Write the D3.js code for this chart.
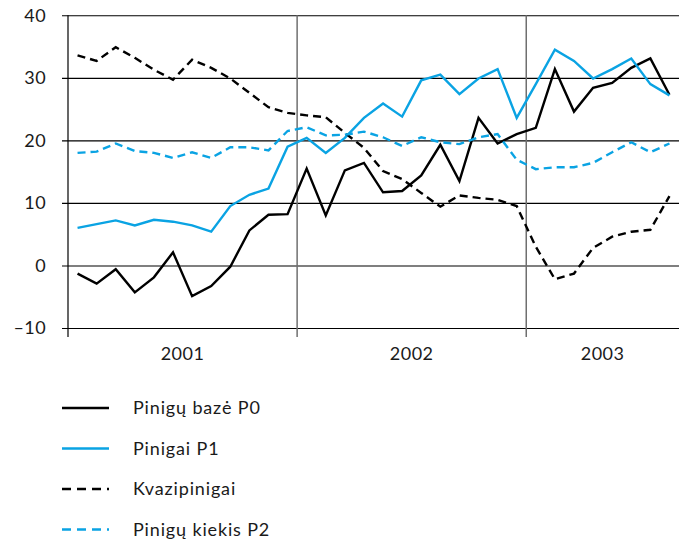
<!DOCTYPE html>
<html>
<head>
<meta charset="utf-8">
<script src="https://cdn.jsdelivr.net/npm/d3@7"></script>
<style>
  body { margin: 0; background: #fff; }
  text { font-family: Lato, "Open Sans", sans-serif; fill: #1a1a1a; }
</style>
</head>
<body>
<div id="chart"></div>
<script>
// monthly data, Jan 2001 - Aug 2003
const years = ["2001", "2002", "2003"];
const monthsPerYear = [12, 12, 8];

const pinigubaze = [-1.3, -2.9, -0.6, -4.3, -1.9, 2.1, -4.9, -3.3, -0.2, 5.6, 8.1, 8.2,
  15.5, 8.0, 15.2, 16.4, 11.7, 11.9, 14.4, 19.3, 13.5, 23.6, 19.5, 21.0,
  22.0, 31.4, 24.6, 28.4, 29.2, 31.6, 33.1, 27.3];
const pinigai = [6.0, 6.6, 7.2, 6.4, 7.3, 7.0, 6.4, 5.4, 9.5, 11.3, 12.3, 19.0,
  20.4, 18.0, 20.4, 23.6, 25.9, 23.8, 29.6, 30.5, 27.4, 29.9, 31.4, 23.6,
  29.0, 34.5, 32.7, 29.9, 31.4, 33.1, 29.0, 27.2];
const kvazipinigai = [33.6, 32.7, 34.9, 33.2, 31.3, 29.7, 32.9, 31.6, 29.9, 27.6, 25.3, 24.4,
  24.0, 23.7, 21.2, 18.8, 15.1, 13.8, 11.6, 9.4, 11.2, 10.8, 10.5, 9.5,
  3.0, -2.2, -1.3, 2.8, 4.6, 5.4, 5.7, 11.1];
const pinigukiekis = [18.0, 18.2, 19.5, 18.3, 18.0, 17.2, 18.1, 17.2, 18.9, 18.9, 18.4, 21.5,
  22.1, 20.8, 20.9, 21.4, 20.5, 19.1, 20.5, 19.7, 19.4, 20.5, 21.0, 16.9,
  15.4, 15.7, 15.7, 16.4, 18.1, 19.7, 18.1, 19.5];

const yTicks = [-10, 0, 10, 20, 30, 40];

const series = [
  {name: "Pinigų bazė P0", values: pinigubaze, color: "#000", dash: null},
  {name: "Pinigai P1", values: pinigai, color: "#0aa3e3", dash: null},
  {name: "Kvazipinigai", values: kvazipinigai, color: "#000", dash: "8,5"},
  {name: "Pinigų kiekis P2", values: pinigukiekis, color: "#0aa3e3", dash: "8,5"}
];

const width = 685, height = 540;
const plotLeft = 68, plotRight = 679, plotTop = 15.3, plotBottom = 328;
const nMonths = d3.sum(monthsPerYear);

const svg = d3.select("#chart").append("svg")
  .attr("width", width)
  .attr("height", height);

const x = d3.scaleLinear().domain([0, nMonths]).range([plotLeft, plotRight]);
const y = d3.scaleLinear().domain([-10, 40]).range([plotBottom, plotTop]);

// horizontal grid + y labels
const yAxis = svg.append("g")
  .attr("transform", "translate(" + (plotLeft - 6) + ",0)")
  .call(d3.axisLeft(y).tickValues(yTicks).tickSize(-(plotRight - plotLeft + 6)).tickPadding(16)
    .tickFormat(d => d < 0 ? "–" + Math.abs(d) : d));
yAxis.select(".domain").remove();
yAxis.selectAll("line").attr("stroke", "#000").attr("stroke-width", 1.1);
yAxis.selectAll("text").style("font-size", "18px").style("letter-spacing", "0.4px").attr("fill", "#1a1a1a");

// year boundaries
const yearStarts = [0];
monthsPerYear.forEach((m, i) => yearStarts.push(yearStarts[i] + m));

svg.append("line")
  .attr("x1", x(0)).attr("x2", x(0))
  .attr("y1", plotTop).attr("y2", plotBottom + 9)
  .attr("stroke", "#000").attr("stroke-width", 1.2);

svg.selectAll(".yearline")
  .data(yearStarts.slice(1, -1))
  .enter().append("line")
  .attr("class", "yearline")
  .attr("x1", d => x(d)).attr("x2", d => x(d))
  .attr("y1", plotTop).attr("y2", plotBottom + 9)
  .attr("stroke", "#6f6f6f").attr("stroke-width", 1.5);

svg.selectAll(".year")
  .data(years)
  .enter().append("text")
  .attr("class", "year")
  .attr("x", (d, i) => x(yearStarts[i] + monthsPerYear[i] / 2))
  .attr("y", 360)
  .attr("text-anchor", "middle")
  .style("font-size", "18px")
  .style("letter-spacing", "0.5px")
  .text(d => d);

// lines
const line = d3.line()
  .x((d, i) => x(i + 0.5))
  .y(d => y(d));

svg.selectAll(".series")
  .data(series)
  .enter().append("path")
  .attr("class", "series")
  .attr("fill", "none")
  .attr("stroke", d => d.color)
  .attr("stroke-width", 2.4)
  .attr("stroke-linejoin", "miter")
  .attr("stroke-dasharray", d => d.dash)
  .attr("d", d => line(d.values));

// legend
const legend = svg.selectAll(".legend")
  .data(series)
  .enter().append("g")
  .attr("class", "legend")
  .attr("transform", (d, i) => "translate(62," + (408 + i * 40.5) + ")");

legend.append("line")
  .attr("x1", 0).attr("x2", 47)
  .attr("stroke", d => d.color)
  .attr("stroke-width", 2.4)
  .attr("stroke-dasharray", d => d.dash ? "9,6" : null);

legend.append("text")
  .attr("x", 71)
  .attr("y", 6)
  .style("font-size", "18px")
  .style("letter-spacing", "0.85px")
  .text(d => d.name);
</script>
</body>
</html>
